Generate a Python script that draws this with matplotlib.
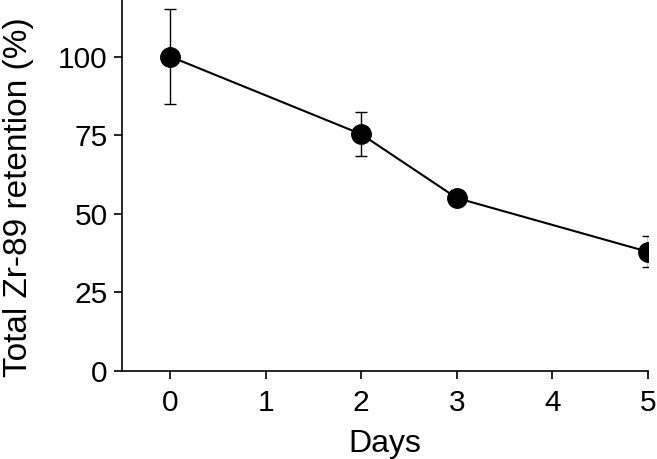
import numpy as np
import matplotlib
matplotlib.use("Agg")
import matplotlib.pyplot as plt

plt.rcParams['font.family'] = ['Liberation Sans', 'DejaVu Sans']

# data
days      = [0, 2, 3, 5]
retention = [100, 75.3, 55, 37.9]
err       = [15, 7, 0.8, 5]

fig = plt.figure(figsize=(6.57, 4.59), dpi=100)
ax = fig.add_axes([0.185, 0.192, 0.801, 0.808])

ax.errorbar(days, retention, yerr=err, fmt='-o', color='black',
            lw=1.5, ms=14, capsize=4.5, elinewidth=1.0, capthick=1.0)

ax.set_xlim(-0.51, 5)
ax.set_ylim(0, 118)
ax.set_xticks([0, 1, 2, 3, 4, 5])
ax.set_yticks([0, 25, 50, 75, 100])

ax.spines['top'].set_visible(False)
ax.spines['right'].set_visible(False)
for s in ('left', 'bottom'):
    ax.spines[s].set_linewidth(1.2)
ax.tick_params(labelsize=21.5, length=6, width=1.2, pad=4)
ax.tick_params(axis='x', pad=7)

ax.set_xlabel('Days', fontsize=23, labelpad=9)
ax.set_ylabel('Total Zr-89 retention (%)', fontsize=24)
ax.yaxis.set_label_coords(-0.167, 0.468)

fig.savefig('out.png', dpi=100)
